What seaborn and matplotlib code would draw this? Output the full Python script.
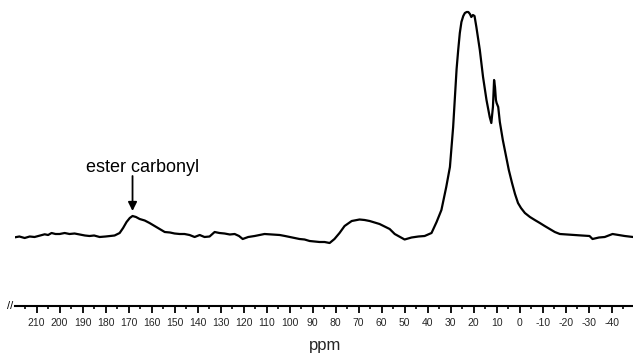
import matplotlib
matplotlib.use("Agg")
import matplotlib.pyplot as plt
import seaborn as sns
import pandas as pd
from matplotlib.ticker import MultipleLocator

# chemical shift (ppm) and signal intensity (arbitrary units, baseline = 0)
ppm = [219.4, 217.5, 215.2, 213.0, 210.9, 208.5, 206.5, 205.0, 203.5, 201.8, 200.0,
       197.8, 195.7, 193.5, 191.3, 189.0, 187.0, 185.0, 182.6, 180.0, 178.0, 176.1,
       173.9, 172.4, 170.9, 169.5, 168.3, 166.8, 165.2, 163.0, 160.9, 158.7, 156.5,
       154.3, 152.0, 150.0, 147.8, 145.7, 143.5, 141.3, 139.1, 137.0, 134.8, 132.6,
       130.5, 128.3, 126.0, 123.9, 122.0, 120.4, 118.0, 115.2, 113.0, 110.9, 107.5,
       104.3, 102.0, 100.0, 97.8, 95.7, 93.5, 91.3, 89.0, 87.0, 84.8, 82.6, 80.5,
       78.3, 76.1, 73.0, 69.6, 67.4, 65.2, 63.0, 60.9, 58.7, 56.5, 54.3, 52.0, 50.0,
       47.0, 44.0, 41.3, 38.3, 36.1, 34.0, 31.9, 30.3, 28.9, 28.2, 27.4, 26.7, 26.0,
       25.3, 24.5, 23.8, 23.0, 22.3, 21.6, 21.0, 20.3, 19.6, 18.8, 17.3, 15.9, 14.4,
       13.0, 12.3, 11.6, 11.1, 10.7, 10.3, 10.0, 9.3, 8.6, 7.3, 6.0, 4.7, 3.3, 2.0,
       0.7, -0.6, -2.3, -4.5, -6.6, -8.8, -10.9, -13.1, -15.3, -17.5, -20.5,
       -23.9, -27.0, -30.4, -31.7, -34.5, -37.0, -40.4, -43.0, -45.7, -49.3]
intensity = [-0.3, 0.5, -1.0, 0.5, 0.0, 1.5, 2.7, 2.0, 4.0, 3.0, 3.0,
             4.0, 3.0, 3.5, 2.5, 1.5, 1.0, 1.5, 0.0, 0.5, 1.0, 1.5,
             4.0, 9.0, 15.0, 19.0, 21.0, 20.0, 18.0, 16.5, 14.0, 11.0, 8.0,
             5.0, 4.5, 3.5, 3.0, 3.0, 2.0, 0.0, 2.0, 0.0, 0.5, 5.0,
             4.0, 3.5, 2.5, 3.0, 1.0, -2.0, 0.0, 1.0, 2.0, 3.0, 2.5,
             2.0, 1.0, 0.0, -1.0, -2.0, -2.5, -4.0, -4.5, -5.0, -5.0, -6.0, -2.0,
             4.0, 11.0, 16.0, 17.5, 17.0, 16.0, 14.5, 13.0, 10.5, 8.0, 3.0, 0.0, -2.5,
             -0.5, 0.5, 1.0, 4.0, 15.0, 27.0, 50.0, 70.0, 110.0, 137.0, 168.0, 187.0, 204.0,
             215.0, 221.0, 224.0, 225.0, 225.0, 223.0, 220.0, 222.0, 221.0, 210.0, 187.0, 160.0, 137.0,
             120.0, 114.0, 130.0, 157.0, 150.0, 137.0, 134.0, 130.0, 115.0, 97.0, 82.0, 67.0, 54.0, 43.0,
             34.0, 29.0, 24.0, 20.0, 17.0, 14.0, 11.0, 8.0, 5.0, 3.0, 2.5,
             2.0, 1.5, 1.0, -2.0, -0.5, 0.0, 3.0, 2.0, 1.0, 0.0]

major_ticks = list(range(-40, 211, 10))
annotation_text = "ester carbonyl"
x_label = "ppm"

sns.set_theme(style="white")
plt.rcParams["font.family"] = ["Liberation Sans", "DejaVu Sans"]

fig = plt.figure(figsize=(6.33, 3.54), dpi=100)
ax = fig.add_axes([15 / 633, 48 / 354, 618 / 633, 301 / 354])

df = pd.DataFrame({"ppm": ppm, "intensity": intensity})
sns.lineplot(data=df, x="ppm", y="intensity", ax=ax, color="black",
             linewidth=1.6, estimator=None, sort=False)

ax.set_xlim(219.4, -49.3)
ax.set_ylim(-69, 232)

for s in ["left", "top", "right"]:
    ax.spines[s].set_visible(False)
ax.spines["bottom"].set_color("black")
ax.spines["bottom"].set_linewidth(1.5)

ax.set_xticks(major_ticks)
ax.set_xticklabels([str(t) for t in major_ticks])
ax.xaxis.set_minor_locator(MultipleLocator(5))
ax.tick_params(axis="x", which="major", direction="out", length=5, width=1.3,
               color="black", labelsize=7.5, pad=4, bottom=True)
ax.tick_params(axis="x", which="minor", direction="out", length=2.5, width=1.2,
               color="black", bottom=True)
ax.set_yticks([])
ax.set_ylabel("")

ax.set_xlabel(x_label, fontsize=12)
ax.xaxis.set_label_coords(0.502, -0.105)

# axis break mark
ax.text(-0.003, 0.0, "//", transform=ax.transAxes, ha="right", va="center",
        fontsize=8, color="black")

# annotation
ax.text(164, 70, annotation_text, ha="center", va="center", fontsize=13, color="black")
ax.annotate("", xy=(168.3, 26), xytext=(168.3, 61),
            arrowprops=dict(arrowstyle="-|>", color="black", lw=1.3,
                            mutation_scale=13, shrinkA=0, shrinkB=0))

fig.savefig("out.png", dpi=100)
